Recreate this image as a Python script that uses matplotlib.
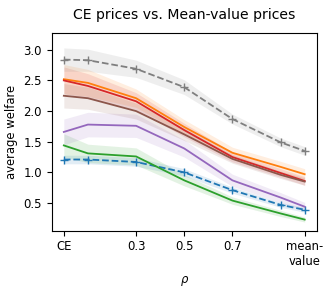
import matplotlib
matplotlib.use('Agg')
import matplotlib.pyplot as plt
import numpy as np

plt.rcParams['font.size'] = 8.4

# x positions: CE -> 0, mean-value -> 1
rho = [0.0, 0.1, 0.3, 0.5, 0.7, 0.9, 1.0]
tick_pos = [0.0, 0.3, 0.5, 0.7, 1.0]
tick_labels = ['CE', '0.3', '0.5', '0.7', 'mean-\nvalue']

# mean-value prices (dashed, + markers)
blue_mean = [1.21, 1.21, 1.17, 1.00, 0.71, 0.47, 0.39]
blue_sd = [0.07, 0.07, 0.07, 0.06, 0.05, 0.04, 0.04]
gray_mean = [2.84, 2.83, 2.69, 2.39, 1.87, 1.49, 1.35]
gray_sd = [0.19, 0.18, 0.14, 0.12, 0.08, 0.07, 0.07]

# CE-price runs (solid)
orange_mean = [2.52, 2.46, 2.21, 1.74, 1.32, 1.09, 0.97]
orange_sd = [0.24, 0.22, 0.15, 0.12, 0.09, 0.09, 0.09]
green_mean = [1.44, 1.31, 1.26, 0.87, 0.54, 0.33, 0.23]
green_sd = [0.19, 0.15, 0.14, 0.09, 0.06, 0.05, 0.04]
red_mean = [2.50, 2.41, 2.16, 1.69, 1.25, 0.99, 0.86]
red_sd = [0.22, 0.2, 0.14, 0.11, 0.08, 0.07, 0.07]
purple_mean = [1.66, 1.78, 1.76, 1.39, 0.87, 0.59, 0.44]
purple_sd = [0.21, 0.2, 0.19, 0.14, 0.1, 0.08, 0.07]
brown_mean = [2.25, 2.21, 2.00, 1.62, 1.22, 0.96, 0.85]
brown_sd = [0.2, 0.18, 0.13, 0.1, 0.07, 0.06, 0.06]

fig = plt.figure(figsize=(3.32, 2.89), dpi=100)
ax = fig.add_axes([0.156, 0.202, 0.798, 0.683])


def band(m, s, color, ls='-', marker=None):
    m = np.array(m)
    s = np.array(s)
    ax.fill_between(rho, m - s, m + s, color=color, alpha=0.13, linewidth=0)
    ax.plot(rho, m, color=color, linestyle=ls, marker=marker, markersize=6, linewidth=1.3)


band(blue_mean, blue_sd, 'tab:blue', '--', '+')
band(orange_mean, orange_sd, 'tab:orange')
band(green_mean, green_sd, 'tab:green')
band(red_mean, red_sd, 'tab:red')
band(purple_mean, purple_sd, 'tab:purple')
band(brown_mean, brown_sd, 'tab:brown')
band(gray_mean, gray_sd, 'tab:gray', '--', '+')

ax.set_xticks(tick_pos)
ax.set_xticklabels(tick_labels)
ax.set_xlim(-0.05, 1.05)
ax.set_ylim(0.05, 3.27)
ax.set_yticks([0.5, 1.0, 1.5, 2.0, 2.5, 3.0])
ax.set_ylabel('average welfare')
ax.set_xlabel(r'$\rho$')
ax.set_title('CE prices vs. Mean-value prices', pad=10)

plt.savefig('out.png')
